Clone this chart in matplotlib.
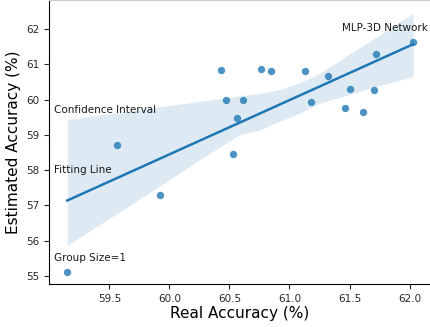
import matplotlib
matplotlib.use("Agg")
import matplotlib.pyplot as plt
import numpy as np

# values
real_acc = [59.15, 59.56, 59.92, 60.43, 60.47, 60.53, 60.56, 60.61, 60.76, 60.85,
            61.13, 61.18, 61.32, 61.46, 61.50, 61.61, 61.70, 61.72, 62.03]
est_acc = [55.12, 58.71, 57.31, 60.84, 60.00, 58.45, 59.47, 59.98, 60.86, 60.82,
           60.81, 59.93, 60.68, 59.77, 60.31, 59.65, 60.28, 61.29, 61.65]

# confidence band edges
band_x = [59.15, 59.60, 60.00, 60.25, 60.58, 60.75, 60.91, 61.08, 61.25, 61.60, 62.03]
band_lo = [55.87, 56.85, 57.73, 58.29, 59.00, 59.14, 59.38, 59.61, 59.90, 60.25, 60.67]
band_hi = [59.44, 59.65, 59.84, 59.95, 60.11, 60.18, 60.28, 60.47, 60.75, 61.51, 62.45]

labels = ["MLP-3D Network", "Confidence Interval", "Fitting Line", "Group Size=1"]
label_pos = [(61.44, 61.95), (59.04, 59.62), (59.04, 57.93), (59.04, 55.41)]

x = np.array(real_acc)
y = np.array(est_acc)

# least squares fit line
slope, icpt = np.polyfit(x, y, 1)
xg = np.linspace(x.min(), x.max(), 100)
yg = icpt + slope * xg

blue = "#1f77b4"
fig = plt.figure(figsize=(4.30, 3.27), dpi=100)
ax = fig.add_axes([0.1147, 0.1315, 0.8853, 0.8685])

ax.fill_between(band_x, band_lo, band_hi, color=blue, alpha=0.15, lw=0)
ax.plot(xg, yg, color=blue, lw=1.8)
ax.scatter(x, y, color=blue, alpha=0.8, s=28, lw=0)

for txt, (tx, ty) in zip(labels, label_pos):
    ax.text(tx, ty, txt, fontsize=7.5, color="#1a1a1a")

ax.set_xlim(59.0, 62.17)
ax.set_ylim(54.77, 62.83)
ax.set_xticks([59.5, 60.0, 60.5, 61.0, 61.5, 62.0])
ax.set_yticks([55, 56, 57, 58, 59, 60, 61, 62])
ax.tick_params(labelsize=7.5, length=3.5, width=0.8, colors="#262626")
ax.set_xlabel("Real Accuracy (%)", fontsize=11, labelpad=2)
ax.set_ylabel("Estimated Accuracy (%)", fontsize=11, labelpad=4)
ax.spines["top"].set_color("#cccccc")
ax.spines["right"].set_visible(False)

fig.savefig("out.png", dpi=100)
